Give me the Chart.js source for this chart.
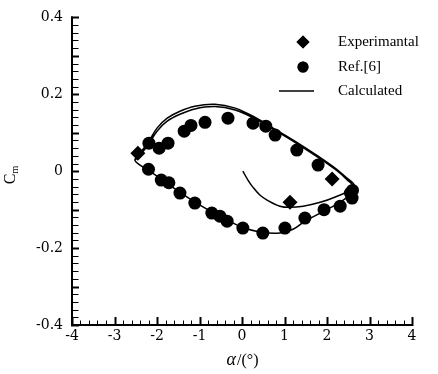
<!DOCTYPE html>
<html>
<head>
<meta charset="utf-8">
<script src="https://cdn.jsdelivr.net/npm/chart.js@4.4.0/dist/chart.umd.min.js"></script>
<style>
  body { margin: 0; background: #fff; }
  canvas { display: block; }
</style>
</head>
<body>
<canvas id="cmChart" width="438" height="374"></canvas>
<script>
// tick labels
const alphaTicks = [-4, -3, -2, -1, 0, 1, 2, 3, 4];
const cmTicks = [-0.4, -0.2, 0, 0.2, 0.4];

// Experimantal (diamonds)
const expAlpha = [-2.45, 1.13, 2.12];
const expCm = [0.047, -0.081, -0.02];

// Ref.[6] (circles)
const refAlpha = [2.6, 2.55, 1.79, 1.29, 0.78, 0.56, 0.26, -0.33, -0.87, -1.2, -1.36, -1.74, -1.95, -2.19,
  -2.2, -1.9, -1.72, -1.46, -1.11, -0.71, -0.52, -0.35, 0.02, 0.49, 1.01, 1.48, 1.93, 2.31, 2.59];
const refCm = [-0.05, -0.057, 0.016, 0.055, 0.094, 0.117, 0.125, 0.138, 0.127, 0.119, 0.104, 0.073, 0.06, 0.073,
  0.005, -0.023, -0.03, -0.057, -0.083, -0.109, -0.117, -0.13, -0.148, -0.161, -0.148, -0.122, -0.1, -0.091, -0.07];

// Calculated: start transient, upper branch, lower branch, second upper branch
const calcAlpha = [0.02, 0.14, 0.26, 0.42, 0.59, 0.89, 1.13, 1.44, 1.84, 2.24, 2.54, 2.64,
  2.47, 2.19, 1.79, 1.29, 0.78, 0.31, -0.16, -0.64, -1.11, -1.46, -1.76, -2.0, -2.21, -2.4, -2.52,
  -2.4, -2.21, -1.93, -1.46, -0.99, -0.52, -0.05, 0.42, 0.89, 1.2, 1.48, 1.84, 2.19, 2.47, 2.64,
  2.47, 2.19, 1.79, 1.29, 0.78, 0.31, -0.16, -0.64, -1.11, -1.46, -1.76, -2.0, -2.21, -2.4, -2.52];
const calcCm = [0.0, -0.023, -0.042, -0.062, -0.075, -0.091, -0.094, -0.091, -0.081, -0.065, -0.049, -0.036,
  -0.018, 0.008, 0.039, 0.075, 0.109, 0.14, 0.164, 0.174, 0.169, 0.156, 0.138, 0.112, 0.075, 0.047, 0.029,
  0.016, 0.003, -0.018, -0.055, -0.088, -0.117, -0.143, -0.158, -0.161, -0.151, -0.13, -0.109, -0.088, -0.068, -0.044,
  -0.022, 0.005, 0.036, 0.072, 0.106, 0.136, 0.159, 0.168, 0.162, 0.148, 0.13, 0.104, 0.068, 0.042, 0.029];

const toPts = (xs, ys) => xs.map((x, i) => ({ x: x, y: ys[i] }));

const serif = "'Liberation Serif', 'Times New Roman', serif";
const tickFont = "'DejaVu Serif', serif";

// axes, inward ticks, titles and legend
const decor = {
  id: 'decor',
  afterDraw(chart) {
    const ctx = chart.ctx;
    const xs = chart.scales.x, ys = chart.scales.y;
    const a = chart.chartArea;
    ctx.save();
    ctx.strokeStyle = '#000';
    ctx.lineCap = 'square';

    // y ticks
    for (let k = -20; k <= 20; k++) {
      const v = k * 0.02;
      const py = Math.round(ys.getPixelForValue(v)) + 0.5;
      ctx.lineWidth = (k % 5 === 0) ? 2 : 1;
      ctx.beginPath();
      ctx.moveTo(a.left, py);
      ctx.lineTo(a.left + 6, py);
      ctx.stroke();
    }
    // x ticks
    for (let k = -20; k <= 20; k++) {
      const v = k * 0.2;
      const px = Math.round(xs.getPixelForValue(v)) + 0.5;
      const major = k % 5 === 0;
      ctx.lineWidth = major ? 2 : 1;
      ctx.beginPath();
      ctx.moveTo(px, a.bottom);
      ctx.lineTo(px, a.bottom - (major ? 7 : 4));
      ctx.stroke();
    }
    // axis lines
    ctx.lineWidth = 2;
    ctx.beginPath();
    ctx.moveTo(a.left, a.top);
    ctx.lineTo(a.left, a.bottom);
    ctx.lineTo(a.right, a.bottom);
    ctx.stroke();

    // x title: alpha/(deg)
    ctx.fillStyle = '#000';
    ctx.textBaseline = 'middle';
    ctx.textAlign = 'left';
    const t1 = 'α', t2 = '/(°)';
    ctx.font = 'italic 18px ' + serif;
    const w1 = ctx.measureText(t1).width;
    ctx.font = '16px ' + serif;
    const w2 = ctx.measureText(t2).width;
    let tx = (a.left + a.right) / 2 - (w1 + w2) / 2;
    ctx.font = 'italic 18px ' + serif;
    ctx.fillText(t1, tx, 360);
    ctx.font = '16px ' + serif;
    ctx.fillText(t2, tx + w1 + 1, 361);

    // y title: C_m
    ctx.translate(11, 175);
    ctx.rotate(-Math.PI / 2);
    ctx.font = '16px ' + serif;
    const wc = ctx.measureText('C').width;
    ctx.font = '10px ' + serif;
    const wm = ctx.measureText('m').width;
    const sx = -(wc + wm) / 2;
    ctx.font = '16px ' + serif;
    ctx.fillText('C', sx, 0);
    ctx.font = '10px ' + serif;
    ctx.fillText('m', sx + wc, 4);
    ctx.setTransform(1, 0, 0, 1, 0, 0);

    // legend
    const rows = [
      { ds: chart.data.datasets[0], y: 42 },
      { ds: chart.data.datasets[1], y: 67 },
      { ds: chart.data.datasets[2], y: 91 }
    ];
    ctx.font = '15px ' + serif;
    rows.forEach(r => {
      if (r.ds.showLine) {
        ctx.lineWidth = 1.5;
        ctx.lineCap = 'butt';
        ctx.beginPath();
        ctx.moveTo(279, r.y);
        ctx.lineTo(314, r.y);
        ctx.stroke();
      } else {
        ctx.fillStyle = '#000';
        Chart.helpers.drawPoint(ctx, {
          pointStyle: r.ds.pointStyle,
          radius: r.ds.pointRadius - 1,
          rotation: 0,
          borderWidth: 0
        }, 303, r.y);
        ctx.fill();
      }
      ctx.fillStyle = '#000';
      ctx.textAlign = 'left';
      ctx.fillText(r.ds.label, 338, r.y);
    });
    ctx.restore();
  }
};

new Chart(document.getElementById('cmChart'), {
  type: 'scatter',
  data: {
    datasets: [
      {
        label: 'Experimantal',
        data: toPts(expAlpha, expCm),
        pointStyle: 'rectRot',
        pointRadius: 7.5,
        backgroundColor: '#000',
        borderColor: '#000',
        borderWidth: 0,
        order: 0
      },
      {
        label: 'Ref.[6]',
        data: toPts(refAlpha, refCm),
        pointStyle: 'circle',
        pointRadius: 6.5,
        backgroundColor: '#000',
        borderColor: '#000',
        borderWidth: 0,
        order: 1
      },
      {
        label: 'Calculated',
        data: toPts(calcAlpha, calcCm),
        showLine: true,
        pointRadius: 0,
        borderColor: '#000',
        borderWidth: 1.5,
        tension: 0.35,
        order: 2
      }
    ]
  },
  options: {
    responsive: false,
    animation: false,
    layout: { padding: { top: 17, right: 26, left: 0, bottom: 0 } },
    plugins: { legend: { display: false }, tooltip: { enabled: false } },
    scales: {
      x: {
        type: 'linear',
        min: -4,
        max: 4,
        afterBuildTicks: s => { s.ticks = alphaTicks.map(v => ({ value: v })); },
        afterFit: s => { s.height = 49; },
        grid: { display: false, drawTicks: false },
        border: { display: false },
        ticks: {
          padding: 3,
          color: '#000',
          font: { family: tickFont, size: 14 },
          callback: v => String(v)
        }
      },
      y: {
        type: 'linear',
        min: -0.4,
        max: 0.4,
        afterBuildTicks: s => { s.ticks = cmTicks.map(v => ({ value: v })); },
        afterFit: s => { s.width = 72; },
        grid: { display: false, drawTicks: false },
        border: { display: false },
        ticks: {
          padding: 9,
          color: '#000',
          font: { family: tickFont, size: 14 },
          callback: v => (Math.abs(v) < 1e-9 ? '0' : v.toFixed(1))
        }
      }
    }
  },
  plugins: [decor]
});
</script>
</body>
</html>
